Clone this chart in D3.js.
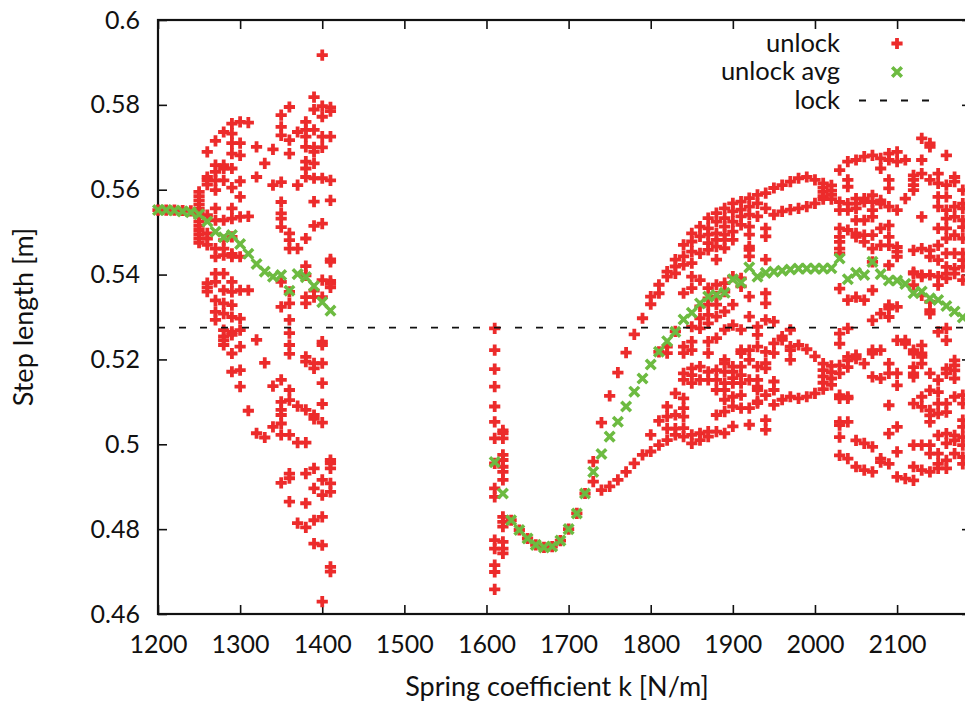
<!DOCTYPE html>
<html>
<head>
<meta charset="utf-8">
<script src="https://cdn.jsdelivr.net/npm/d3@7"></script>
<style>
    body { margin: 0; background: #fff; }
    svg { display: block; font-family: Lato, "Open Sans", sans-serif; }
</style>
</head>
<body>
<svg id="chart" width="965" height="702"></svg>
<script>
//#region Data
const xTicks = [1200, 1300, 1400, 1500, 1600, 1700, 1800, 1900, 2000, 2100];
const yTicks = [0.46, 0.48, 0.5, 0.52, 0.54, 0.56, 0.58, 0.6];

const lockValue = 0.5275;

// unlock: [k, [step lengths]] per spring coefficient
const unlockLeft = [
    [1200, [0.5552]], [1210, [0.5552]], [1220, [0.5552]], [1230, [0.5551]], [1240, [0.5550]],
    [1250, [0.5595, 0.5585, 0.5575, 0.5565, 0.5555, 0.5545, 0.5535, 0.5525, 0.5515, 0.5505, 0.5495, 0.5485, 0.5475]],
    [1260, [0.5689, 0.5630, 0.5622, 0.5612, 0.5540, 0.5497, 0.5485, 0.5470, 0.5380, 0.5370, 0.5360]],
    [1270, [0.5715, 0.5658, 0.5642, 0.5622, 0.5599, 0.5556, 0.5528, 0.5461, 0.5442, 0.5402, 0.5383, 0.5339, 0.5312, 0.5293]],
    [1280, [0.5736, 0.5658, 0.5650, 0.5622, 0.5528, 0.5481, 0.5461, 0.5446, 0.5402, 0.5363, 0.5332, 0.5308, 0.5269, 0.5254, 0.5245, 0.5234]],
    [1290, [0.5756, 0.5732, 0.5710, 0.5685, 0.5650, 0.5605, 0.5556, 0.5532, 0.5489, 0.5449, 0.5442, 0.5383, 0.5359, 0.5328, 0.5300, 0.5265, 0.5258, 0.5214, 0.5171]],
    [1300, [0.5760, 0.5710, 0.5681, 0.5620, 0.5583, 0.5536, 0.5442, 0.5363, 0.5296, 0.5269, 0.5230, 0.5175, 0.5136]],
    [1310, [0.5758, 0.5537, 0.5363, 0.5079]],
    [1320, [0.5701, 0.5630, 0.5246, 0.5026]],
    [1330, [0.5662, 0.5192, 0.5016]],
    [1340, [0.5695, 0.5611, 0.5137, 0.5041]],
    [1350, [0.5776, 0.5748, 0.5728, 0.5618, 0.5571, 0.5544, 0.5532, 0.5512, 0.5383, 0.5324, 0.5152, 0.5100, 0.5081, 0.5069, 0.5049, 0.5022, 0.4909]],
    [1360, [0.5795, 0.5717, 0.5685, 0.5497, 0.5481, 0.5461, 0.5359, 0.5332, 0.5293, 0.5262, 0.5234, 0.5213, 0.5128, 0.5104, 0.5022, 0.4931, 0.4920, 0.4865]],
    [1370, [0.5736, 0.5611, 0.5461, 0.5090, 0.5004, 0.4814]],
    [1380, [0.5760, 0.5741, 0.5725, 0.5701, 0.5666, 0.5650, 0.5630, 0.5485, 0.5420, 0.5398, 0.5347, 0.5332, 0.5206, 0.5195, 0.5081, 0.5004, 0.4931, 0.4861, 0.4804]],
    [1390, [0.5818, 0.5789, 0.5741, 0.5700, 0.5689, 0.5662, 0.5627, 0.5572, 0.5515, 0.5362, 0.5347, 0.5191, 0.5179, 0.5069, 0.5060, 0.4943, 0.4896, 0.4821, 0.4766]],
    [1400, [0.5917, 0.5797, 0.5772, 0.5725, 0.5700, 0.5627, 0.5520, 0.5387, 0.5347, 0.5242, 0.5234, 0.5191, 0.5144, 0.5095, 0.5051, 0.4916, 0.4880, 0.4829, 0.4762, 0.4629]],
    [1410, [0.5794, 0.5785, 0.5725, 0.5622, 0.5575, 0.5436, 0.5430, 0.5385, 0.5378, 0.5370, 0.4963, 0.4955, 0.4943, 0.4908, 0.4888, 0.4711, 0.4700]]
];

const unlockMiddle = [
    [1610, [0.5273, 0.5222, 0.5177, 0.5136, 0.5089, 0.5053, 0.5014, 0.4955, 0.4896, 0.4876, 0.4774, 0.4754, 0.4715, 0.4699, 0.4658]],
    [1620, [0.5033, 0.5026, 0.5014, 0.4975, 0.4963, 0.4947, 0.4935, 0.4916, 0.4829, 0.4817, 0.4806, 0.4770, 0.4754, 0.4743]],
    [1630, [0.4821]], [1640, [0.4798]], [1650, [0.4778]], [1660, [0.4763]], [1670, [0.4757]],
    [1680, [0.4759]], [1690, [0.4773]], [1700, [0.4800]], [1710, [0.4837]], [1720, [0.4884]],
    [1730, [0.4959, 0.4912]], [1740, [0.5051, 0.4892]], [1750, [0.5114, 0.4901]], [1760, [0.5169, 0.4916]],
    [1770, [0.5216, 0.4935]], [1780, [0.5259, 0.4955]], [1790, [0.5297, 0.4975]]
];

const unlockRight = [
    [1800, [0.5348, 0.5330, 0.5022, 0.4983]],
    [1810, [0.5376, 0.5356, 0.5218, 0.5055, 0.4998]],
    [1820, [0.5407, 0.5395, 0.5230, 0.5215, 0.5089, 0.5065, 0.5037, 0.5010]],
    [1830, [0.5435, 0.5419, 0.5403, 0.5266, 0.5120, 0.5069, 0.5037, 0.5022]],
    [1840, [0.5470, 0.5443, 0.5423, 0.5356, 0.5230, 0.5215, 0.5167, 0.5152, 0.5108, 0.5085, 0.5065, 0.5038, 0.5018]],
    [1850, [0.5497, 0.5478, 0.5454, 0.5427, 0.5395, 0.5368, 0.5277, 0.5242, 0.5222, 0.5179, 0.5163, 0.5144, 0.5022, 0.5002]],
    [1860, [0.5513, 0.5490, 0.5450, 0.5387, 0.5325, 0.5297, 0.5273, 0.5183, 0.5152, 0.5026, 0.5010]],
    [1870, [0.5533, 0.5509, 0.5494, 0.5474, 0.5458, 0.5368, 0.5344, 0.5329, 0.5305, 0.5285, 0.5242, 0.5215, 0.5171, 0.5152, 0.5030, 0.5018]],
    [1880, [0.5545, 0.5525, 0.5497, 0.5482, 0.5466, 0.5435, 0.5376, 0.5348, 0.5329, 0.5301, 0.5250, 0.5175, 0.5152, 0.5128, 0.5069, 0.5030]],
    [1890, [0.5556, 0.5533, 0.5513, 0.5494, 0.5482, 0.5462, 0.5380, 0.5360, 0.5313, 0.5270, 0.5199, 0.5191, 0.5171, 0.5144, 0.5128, 0.5105, 0.5077, 0.5026]],
    [1900, [0.5568, 0.5549, 0.5525, 0.5501, 0.5482, 0.5395, 0.5329, 0.5281, 0.5183, 0.5171, 0.5156, 0.5144, 0.5112, 0.5089, 0.5042]],
    [1910, [0.5572, 0.5553, 0.5537, 0.5517, 0.5391, 0.5372, 0.5270, 0.5222, 0.5215, 0.5183, 0.5163, 0.5144, 0.5116, 0.5085]],
    [1920, [0.5580, 0.5560, 0.5541, 0.5513, 0.5494, 0.5466, 0.5458, 0.5443, 0.5348, 0.5301, 0.5222, 0.5199, 0.5152, 0.5085, 0.5046]],
    [1930, [0.5588, 0.5568, 0.5537, 0.5277, 0.5258, 0.5230, 0.5183, 0.5152, 0.5136, 0.5128, 0.5101, 0.5097]],
    [1940, [0.5592, 0.5556, 0.5509, 0.5490, 0.5435, 0.5356, 0.5332, 0.5293, 0.5218, 0.5191, 0.5179, 0.5116, 0.5057, 0.5034]],
    [1950, [0.5604, 0.5541, 0.5289, 0.5238, 0.5215, 0.5148, 0.5128, 0.5093]],
    [1960, [0.5611, 0.5549, 0.5254, 0.5246, 0.5105]],
    [1970, [0.5619, 0.5553, 0.5270, 0.5230, 0.5222, 0.5199, 0.5112]],
    [1980, [0.5627, 0.5556, 0.5234, 0.5108]],
    [1990, [0.5630, 0.5560, 0.5224, 0.5112]],
    [2000, [0.5623, 0.5568, 0.5207, 0.5120]],
    [2010, [0.5615, 0.5605, 0.5595, 0.5585, 0.5578, 0.5190, 0.5175, 0.5160, 0.5145, 0.5130]],
    [2020, [0.5610, 0.5598, 0.5588, 0.5578, 0.5185, 0.5170, 0.5155, 0.5140]],
    [2030, [0.5646, 0.5571, 0.5552, 0.5509, 0.5489, 0.5477, 0.5461, 0.5450, 0.5367, 0.5261, 0.5237, 0.5186, 0.5167, 0.5116, 0.5108, 0.5053, 0.5045, 0.5017, 0.4974]],
    [2040, [0.5666, 0.5623, 0.5607, 0.5567, 0.5552, 0.5505, 0.5340, 0.5273, 0.5206, 0.5198, 0.5182, 0.5112, 0.5108, 0.5053, 0.4966]],
    [2050, [0.5670, 0.5579, 0.5567, 0.5556, 0.5528, 0.5497, 0.5489, 0.5347, 0.5210, 0.5202, 0.5009, 0.4947]],
    [2060, [0.5678, 0.5579, 0.5571, 0.5528, 0.5493, 0.5477, 0.5340, 0.5190, 0.5002, 0.4939]],
    [2070, [0.5681, 0.5587, 0.5571, 0.5552, 0.5536, 0.5493, 0.5461, 0.5430, 0.5363, 0.5292, 0.5222, 0.5214, 0.5159, 0.4994, 0.4935]],
    [2080, [0.5674, 0.5650, 0.5575, 0.5567, 0.5509, 0.5469, 0.5308, 0.5222, 0.5155, 0.4966, 0.4958]],
    [2090, [0.5685, 0.5670, 0.5623, 0.5603, 0.5560, 0.5516, 0.5489, 0.5469, 0.5422, 0.5328, 0.5320, 0.5300, 0.5190, 0.5167, 0.5092, 0.5025, 0.4954]],
    [2100, [0.5689, 0.5666, 0.5552, 0.5465, 0.5454, 0.5442, 0.5324, 0.5245, 0.5167, 0.5139, 0.5041, 0.4982, 0.4923]],
    [2110, [0.5670, 0.5579, 0.5245, 0.5237, 0.4919]],
    [2120, [0.5634, 0.5623, 0.5611, 0.5599, 0.5457, 0.5406, 0.5402, 0.5375, 0.5222, 0.5214, 0.5182, 0.5167, 0.5159, 0.5096, 0.4998, 0.4947, 0.4915]],
    [2130, [0.5721, 0.5670, 0.5638, 0.5536, 0.5461, 0.5399, 0.5395, 0.5351, 0.5233, 0.5214, 0.5206, 0.5190, 0.5112, 0.5088, 0.4998, 0.4939]],
    [2140, [0.5709, 0.5701, 0.5623, 0.5457, 0.5442, 0.5399, 0.5336, 0.5316, 0.5308, 0.5167, 0.5127, 0.5080, 0.5068, 0.5053, 0.4998, 0.4978, 0.4935]],
    [2150, [0.5638, 0.5615, 0.5583, 0.5560, 0.5509, 0.5469, 0.5434, 0.5395, 0.5375, 0.5265, 0.5151, 0.5123, 0.5096, 0.5072, 0.5021, 0.4978, 0.4954, 0.4943]],
    [2160, [0.5681, 0.5611, 0.5583, 0.5552, 0.5532, 0.5509, 0.5485, 0.5450, 0.5418, 0.5402, 0.5391, 0.5273, 0.5245, 0.5178, 0.5167, 0.5096, 0.5076, 0.5025, 0.5002, 0.4962, 0.4943]],
    [2170, [0.5630, 0.5619, 0.5560, 0.5536, 0.5493, 0.5450, 0.5414, 0.5402, 0.5198, 0.5186, 0.5174, 0.5155, 0.5112, 0.5021, 0.5009, 0.4978]],
    [2180, [0.5599, 0.5567, 0.5556, 0.5528, 0.5512, 0.5485, 0.5450, 0.5434, 0.5418, 0.5387, 0.5116, 0.5096, 0.5057, 0.5041, 0.5017, 0.4998, 0.4970, 0.4954]]
];

// unlock avg: [k, mean step length]
const avgLeft = [
    [1200, 0.5552], [1210, 0.5552], [1220, 0.5551], [1230, 0.5549], [1240, 0.5547], [1250, 0.5542],
    [1260, 0.5525], [1270, 0.5501], [1280, 0.5488], [1290, 0.5493], [1300, 0.5472], [1310, 0.5449],
    [1320, 0.5425], [1330, 0.5407], [1340, 0.5395], [1350, 0.5399], [1360, 0.5362], [1370, 0.5401],
    [1380, 0.5394], [1390, 0.5373], [1400, 0.5335], [1410, 0.5315]
];

const avgRight = [
    [1610, 0.4958], [1620, 0.4884], [1630, 0.4821], [1640, 0.4798], [1650, 0.4778], [1660, 0.4763],
    [1670, 0.4757], [1680, 0.4759], [1690, 0.4773], [1700, 0.4800], [1710, 0.4837], [1720, 0.4884],
    [1730, 0.4935], [1740, 0.4977], [1750, 0.5018], [1760, 0.5053], [1770, 0.5089], [1780, 0.5124],
    [1790, 0.5155], [1800, 0.5188], [1810, 0.5218], [1820, 0.5243], [1830, 0.5265], [1840, 0.5294],
    [1850, 0.5310], [1860, 0.5332], [1870, 0.5348], [1880, 0.5352], [1890, 0.5357], [1900, 0.5389],
    [1910, 0.5381], [1920, 0.5417], [1930, 0.5395], [1940, 0.5404], [1950, 0.5407], [1960, 0.5409],
    [1970, 0.5412], [1980, 0.5414], [1990, 0.5414], [2000, 0.5414], [2010, 0.5414], [2020, 0.5415],
    [2030, 0.5438], [2040, 0.5389], [2050, 0.5404], [2060, 0.5399], [2070, 0.5430], [2080, 0.5401],
    [2090, 0.5386], [2100, 0.5386], [2110, 0.5378], [2120, 0.5356], [2130, 0.5360], [2140, 0.5344],
    [2150, 0.5340], [2160, 0.5326], [2170, 0.5313], [2180, 0.5299]
];
//#endregion

const red = '#ec2b2b';
const green = '#6dbb41';

const svg = d3.select('#chart');
const plot = { left: 158, right: 971, top: 20, bottom: 614 };

const xScale = d3.scaleLinear().domain([1200, 2190]).range([plot.left, plot.right]);
const yScale = d3.scaleLinear().domain([0.46, 0.6]).range([plot.bottom, plot.top]);

const kValue = d => d.k;
const stepValue = d => d.v;

const unlockPoints = [...unlockLeft, ...unlockMiddle, ...unlockRight]
    .flatMap(([k, values]) => values.map(v => ({ k, v })));
const avgPoints = [...avgLeft, ...avgRight].map(([k, v]) => ({ k, v }));

const plusPath = s => `M${-s},0H${s}M0,${-s}V${s}`;
const crossPath = s => `M${-s},${-s}L${s},${s}M${-s},${s}L${s},${-s}`;

const plusSize = 5.6, plusWidth = 3.8;
const crossSize = 4.8, crossWidth = 3.5;

//#region Axes
const tickFont = g => g.selectAll('text')
    .attr('font-size', 25)
    .attr('fill', '#111');

const styleTicks = g => {
    g.select('.domain').remove();
    g.selectAll('.tick line').attr('stroke', '#111').attr('stroke-width', 1.6);
};

svg.append('g')
    .attr('transform', `translate(0,${plot.bottom})`)
    .call(d3.axisBottom(xScale).tickValues(xTicks).tickSizeInner(-9).tickSizeOuter(0).tickPadding(21).tickFormat(d3.format('d')))
    .call(styleTicks)
    .call(tickFont)
    .attr('font-family', null);

svg.append('g')
    .attr('transform', `translate(0,${plot.top})`)
    .call(d3.axisTop(xScale).tickValues(xTicks).tickSizeInner(-9).tickSizeOuter(0).tickFormat(''))
    .call(styleTicks);

svg.append('g')
    .attr('transform', `translate(${plot.left},0)`)
    .call(d3.axisLeft(yScale).tickValues(yTicks).tickSizeInner(-9).tickSizeOuter(0).tickPadding(18).tickFormat(d3.format('~g')))
    .call(styleTicks)
    .call(tickFont)
    .attr('font-family', null);

svg.append('g')
    .attr('transform', `translate(${plot.right},0)`)
    .call(d3.axisRight(yScale).tickValues(yTicks).tickSizeInner(-9).tickSizeOuter(0).tickFormat(''))
    .call(styleTicks);

svg.append('rect')
    .attr('x', plot.left)
    .attr('y', plot.top)
    .attr('width', plot.right - plot.left)
    .attr('height', plot.bottom - plot.top)
    .attr('fill', 'none')
    .attr('stroke', '#111')
    .attr('stroke-width', 2.2);

svg.append('text')
    .attr('x', 557)
    .attr('y', 696)
    .attr('text-anchor', 'middle')
    .attr('font-size', 27)
    .attr('fill', '#111')
    .text('Spring coefficient k [N/m]');

svg.append('text')
    .attr('transform', `translate(33,${(plot.top + plot.bottom) / 2}) rotate(-90)`)
    .attr('text-anchor', 'middle')
    .attr('font-size', 27)
    .attr('fill', '#111')
    .text('Step length [m]');
//#endregion

//#region Marks
svg.append('g')
    .selectAll('path')
    .data(unlockPoints)
    .join('path')
    .attr('transform', d => `translate(${xScale(kValue(d))},${yScale(stepValue(d))})`)
    .attr('d', plusPath(plusSize))
    .attr('stroke', red)
    .attr('stroke-width', plusWidth)
    .attr('fill', 'none');

svg.append('g')
    .selectAll('path')
    .data(avgPoints)
    .join('path')
    .attr('transform', d => `translate(${xScale(kValue(d))},${yScale(stepValue(d))})`)
    .attr('d', crossPath(crossSize))
    .attr('stroke', green)
    .attr('stroke-width', crossWidth)
    .attr('fill', 'none');

svg.append('line')
    .attr('x1', plot.left)
    .attr('x2', plot.right)
    .attr('y1', yScale(lockValue))
    .attr('y2', yScale(lockValue))
    .attr('stroke', '#111')
    .attr('stroke-width', 1.8)
    .attr('stroke-dasharray', '7,14');
//#endregion

//#region Legend
const legendItems = [
    { label: 'unlock', type: 'plus' },
    { label: 'unlock avg', type: 'cross' },
    { label: 'lock', type: 'dash' }
];

const legend = svg.append('g');
legendItems.forEach((item, i) => {
    const cy = 43.5 + i * 28.5;
    legend.append('text')
        .attr('x', 840)
        .attr('y', cy)
        .attr('dy', '0.33em')
        .attr('text-anchor', 'end')
        .attr('font-size', 25.5)
        .attr('fill', '#111')
        .text(item.label);
    if (item.type === 'plus') {
        legend.append('path')
            .attr('transform', `translate(897,${cy})`)
            .attr('d', plusPath(plusSize))
            .attr('stroke', red).attr('stroke-width', plusWidth).attr('fill', 'none');
    } else if (item.type === 'cross') {
        legend.append('path')
            .attr('transform', `translate(897,${cy})`)
            .attr('d', crossPath(crossSize))
            .attr('stroke', green).attr('stroke-width', crossWidth).attr('fill', 'none');
    } else {
        legend.append('line')
            .attr('x1', 859).attr('x2', 931)
            .attr('y1', cy).attr('y2', cy)
            .attr('stroke', '#111').attr('stroke-width', 1.8)
            .attr('stroke-dasharray', '7,14');
    }
});
//#endregion
</script>
</body>
</html>
